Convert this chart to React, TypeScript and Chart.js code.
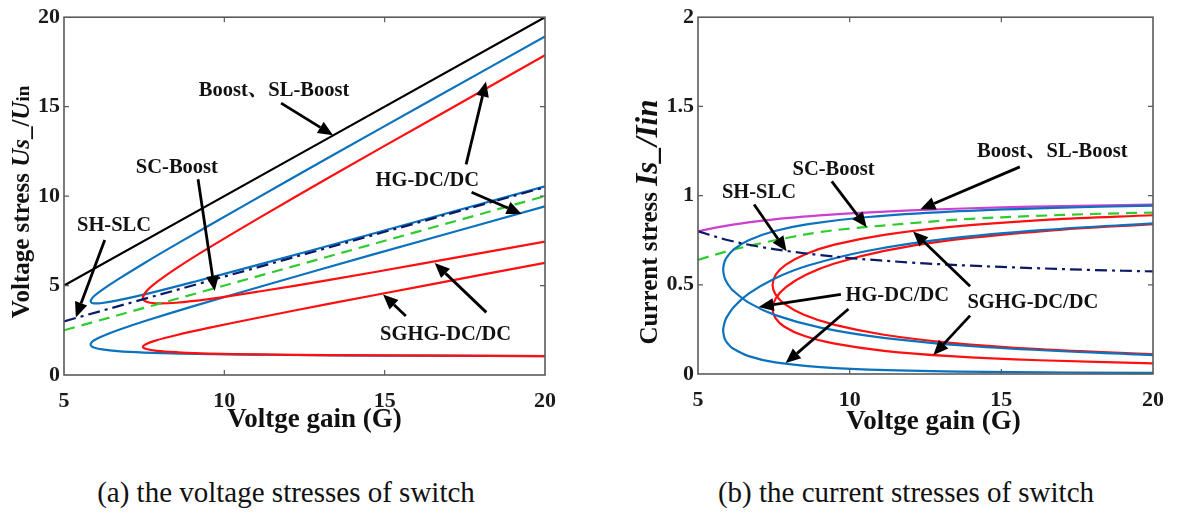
import React, { useEffect, useRef } from 'react';
import { Chart, registerables } from 'chart.js';
Chart.register(...registerables);

// ---------- tick labels ----------
const xTicks = [5, 10, 15, 20];
const voltageTicks = [0, 5, 10, 15, 20];
const currentTicks = [0, 0.5, 1, 1.5, 2];

// ---------- (a) voltage stress ----------
const boostG = [5, 20];
const boostVs = [5, 20];
const scBoostG = [5, 20];
const scBoostVs = [2.5, 10];
const shSlcG = [5, 20];
const shSlcVs = [3, 10.5];

// HG-DC/DC loops (blue)
const hgG = [20.0, 16.44, 13.31, 10.61, 8.63, 7.5, 6.67, 6.19, 5.93, 5.86, 5.83, 5.86, 5.9, 6.0, 6.14, 6.67, 7.55, 9.04, 11.25, 14.51, 20.0];
const hgVs1 = [18.92, 15.36, 12.21, 9.47, 7.44, 6.25, 5.33, 4.76, 4.4, 4.24, 4.12, 4.04, 4.01, 4.0, 4.01, 4.17, 4.52, 5.2, 6.25, 7.84, 10.55];
const hgVs2 = [1.06, 1.08, 1.1, 1.14, 1.19, 1.25, 1.33, 1.43, 1.54, 1.61, 1.71, 1.82, 1.89, 2.0, 2.13, 2.5, 3.03, 3.85, 5.0, 6.67, 9.43];

// SGHG-DC/DC loops (red)
const sgG = [20.0, 16.58, 13.33, 11.14, 9.5, 8.56, 7.9, 7.57, 7.46, 7.55, 7.85, 8.49, 9.51, 11.13, 13.33, 16.25, 20.0];
const sgVs1 = [17.87, 14.41, 11.11, 8.84, 7.09, 6.03, 5.2, 4.68, 4.31, 4.11, 4.01, 4.04, 4.24, 4.68, 5.33, 6.25, 7.46];
const sgVs2 = [1.06, 1.08, 1.11, 1.15, 1.2, 1.27, 1.35, 1.45, 1.58, 1.72, 1.92, 2.22, 2.63, 3.23, 4.0, 5.0, 6.27];

// ---------- (b) current stress ----------
const boostIG = [5, 6, 7, 8, 9, 10, 12, 14, 16, 18, 20];
const boostIs = [0.8, 0.833, 0.857, 0.875, 0.889, 0.9, 0.917, 0.929, 0.938, 0.944, 0.95];
const scBoostIG = [5, 6, 7, 8, 9, 10, 12, 14, 16, 18, 20];
const scBoostIs = [0.64, 0.69, 0.73, 0.765, 0.795, 0.815, 0.845, 0.87, 0.885, 0.897, 0.905];
const shSlcIG = [5, 6, 7, 8, 9, 10, 12, 14, 16, 18, 20];
const shSlcIs = [0.8, 0.75, 0.714, 0.688, 0.667, 0.65, 0.625, 0.607, 0.594, 0.583, 0.575];
const hgIs1 = [0.944, 0.93, 0.91, 0.88, 0.84, 0.8, 0.75, 0.7, 0.65, 0.62, 0.586, 0.55, 0.53, 0.5, 0.47, 0.4, 0.33, 0.26, 0.2, 0.15, 0.106];
const hgIs2 = [0.844, 0.808, 0.76, 0.691, 0.608, 0.533, 0.45, 0.377, 0.313, 0.279, 0.243, 0.209, 0.191, 0.167, 0.144, 0.1, 0.065, 0.039, 0.022, 0.012, 0.006];
const sgIs1 = [0.89, 0.865, 0.825, 0.78, 0.725, 0.673, 0.613, 0.558, 0.5, 0.448, 0.393, 0.332, 0.275, 0.22, 0.175, 0.139, 0.11];
const sgIs2 = [0.84, 0.804, 0.75, 0.69, 0.619, 0.556, 0.487, 0.426, 0.366, 0.315, 0.265, 0.214, 0.17, 0.13, 0.1, 0.077, 0.06];

// ---------- annotations (data coordinates) ----------
const leftLabels = [
  { text: 'Boost、SL-Boost', g: 11.55, v: 15.9 },
  { text: 'SC-Boost', g: 8.52, v: 11.6 },
  { text: 'SH-SLC', g: 6.56, v: 8.34 },
  { text: 'HG-DC/DC', g: 16.33, v: 10.86 },
  { text: 'SGHG-DC/DC', g: 16.9, v: 2.27 },
];
const leftArrows = [
  [11.77, 15.2, 13.39, 13.4],
  [9.18, 10.94, 9.7, 4.7],
  [6.27, 7.54, 5.37, 3.22],
  [17.54, 11.77, 18.16, 16.4],
  [17.71, 10.22, 19.27, 9.0],
  [18.17, 3.5, 16.56, 6.26],
  [15.66, 3.3, 14.95, 4.5],
];
const rightLabels = [
  { text: 'Boost、SL-Boost', g: 16.68, v: 1.248 },
  { text: 'SC-Boost', g: 9.47, v: 1.147 },
  { text: 'SH-SLC', g: 7.01, v: 1.015 },
  { text: 'HG-DC/DC', g: 11.57, v: 0.44 },
  { text: 'SGHG-DC/DC', g: 16.04, v: 0.4 },
];
const rightArrows = [
  [15.61, 1.161, 12.33, 0.923],
  [9.41, 1.08, 10.56, 0.822],
  [6.85, 0.95, 7.92, 0.688],
  [9.71, 0.446, 7.0, 0.376],
  [9.96, 0.364, 7.89, 0.061],
  [13.97, 0.492, 12.09, 0.799],
  [13.97, 0.327, 12.76, 0.106],
];

const SERIF = '"Liberation Serif", "Times New Roman", "Noto Serif CJK SC", "Noto Sans CJK SC", serif';
const BLUE = '#0b72bd';
const RED = '#ff1010';
const GREEN = '#2ecc2e';
const NAVY = '#0c1a66';
const MAGENTA = '#cc3fd0';

const pts = (xs: number[], ys: number[]) => xs.map((x, i) => ({ x, y: ys[i] }));

function line(data: any[], color: string, dash: number[] = []) {
  return {
    data,
    borderColor: color,
    backgroundColor: color,
    borderWidth: 2.2,
    borderDash: dash,
    showLine: true,
    pointRadius: 0,
    tension: 0.35,
    fill: false,
  };
}

type Seg = { text: string; font: string };

const decorPlugin = {
  id: 'decor',
  afterDatasetsDraw(chart: any, _a: any, opts: any) {
    const { ctx, chartArea: ca, scales } = chart;
    const xs = scales.x;
    const ys = scales.y;
    ctx.save();
    // frame
    ctx.strokeStyle = '#5a5a5a';
    ctx.lineWidth = 1.6;
    ctx.strokeRect(ca.left, ca.top, ca.right - ca.left, ca.bottom - ca.top);
    // inward ticks
    ctx.lineWidth = 1.2;
    ctx.beginPath();
    for (const t of opts.xTicks) {
      const px = xs.getPixelForValue(t);
      if (px <= ca.left + 1 || px >= ca.right - 1) continue;
      ctx.moveTo(px, ca.bottom); ctx.lineTo(px, ca.bottom - 5);
      ctx.moveTo(px, ca.top); ctx.lineTo(px, ca.top + 5);
    }
    for (const t of opts.yTicks) {
      const py = ys.getPixelForValue(t);
      if (py <= ca.top + 1 || py >= ca.bottom - 1) continue;
      ctx.moveTo(ca.left, py); ctx.lineTo(ca.left + 5, py);
      ctx.moveTo(ca.right, py); ctx.lineTo(ca.right - 5, py);
    }
    ctx.stroke();

    // arrows
    ctx.strokeStyle = '#000';
    ctx.fillStyle = '#000';
    for (const a of opts.arrows) {
      const x0 = xs.getPixelForValue(a[0]);
      const y0 = ys.getPixelForValue(a[1]);
      const x1 = xs.getPixelForValue(a[2]);
      const y1 = ys.getPixelForValue(a[3]);
      const ang = Math.atan2(y1 - y0, x1 - x0);
      const hl = 15, hw = 6.5;
      const bx = x1 - hl * Math.cos(ang);
      const by = y1 - hl * Math.sin(ang);
      ctx.lineWidth = 2.8;
      ctx.beginPath();
      ctx.moveTo(x0, y0);
      ctx.lineTo(bx, by);
      ctx.stroke();
      ctx.beginPath();
      ctx.moveTo(x1, y1);
      ctx.lineTo(bx + hw * Math.sin(ang), by - hw * Math.cos(ang));
      ctx.lineTo(bx - hw * Math.sin(ang), by + hw * Math.cos(ang));
      ctx.closePath();
      ctx.fill();
    }

    // labels
    ctx.font = `bold 20.5px ${SERIF}`;
    ctx.textAlign = 'center';
    ctx.textBaseline = 'middle';
    ctx.fillStyle = '#111';
    for (const l of opts.labels) {
      ctx.fillText(l.text, xs.getPixelForValue(l.g), ys.getPixelForValue(l.v));
    }

    // x title
    ctx.font = `bold 27px ${SERIF}`;
    ctx.fillStyle = '#111';
    ctx.fillText(opts.xTitle, (ca.left + ca.right) / 2 + opts.xTitleDx, opts.xTitleY);

    // y title (rich, rotated)
    const segs: Seg[] = opts.yTitle;
    ctx.save();
    ctx.translate(opts.yTitleX, opts.yTitleY);
    ctx.rotate(-Math.PI / 2);
    let total = 0;
    for (const s of segs) { ctx.font = s.font; total += ctx.measureText(s.text).width; }
    let cx = -total / 2;
    ctx.textAlign = 'left';
    ctx.textBaseline = 'alphabetic';
    for (const s of segs) {
      ctx.font = s.font;
      ctx.fillText(s.text, cx, 9);
      cx += ctx.measureText(s.text).width;
    }
    ctx.restore();
    ctx.restore();
  },
};

function makeChart(canvas: HTMLCanvasElement, cfg: any) {
  return new Chart(canvas, {
    type: 'scatter',
    data: { datasets: cfg.datasets },
    options: {
      animation: false,
      responsive: false,
      devicePixelRatio: 1,
      layout: { padding: cfg.padding },
      plugins: {
        legend: { display: false },
        tooltip: { enabled: false },
        decor: cfg.decor,
      },
      scales: {
        x: {
          type: 'linear',
          min: 5,
          max: 20,
          grid: { display: false, drawTicks: false, tickLength: 0 },
          border: { display: false },
          afterBuildTicks: (s: any) => { s.ticks = xTicks.map((v) => ({ value: v })); },
          afterFit: (s: any) => { s.height = cfg.xAxisHeight; },
          ticks: {
            padding: 13,
            color: '#1a1a1a',
            font: { family: SERIF, size: 22, weight: 'bold' },
            maxRotation: 0,
            callback: (v: any) => String(v),
          },
        },
        y: {
          type: 'linear',
          min: 0,
          max: cfg.yMax,
          grid: { display: false, drawTicks: false, tickLength: 0 },
          border: { display: false },
          afterBuildTicks: (s: any) => { s.ticks = cfg.yTicks.map((v: number) => ({ value: v })); },
          afterFit: (s: any) => { s.width = cfg.yAxisWidth; },
          ticks: {
            padding: 4,
            color: '#1a1a1a',
            font: { family: SERIF, size: 22, weight: 'bold' },
            callback: (v: any) => String(v),
          },
        },
      },
    } as any,
    plugins: [decorPlugin as any],
  });
}

export default function App() {
  const leftRef = useRef<HTMLCanvasElement>(null);
  const rightRef = useRef<HTMLCanvasElement>(null);

  useEffect(() => {
    const left = makeChart(leftRef.current!, {
      yMax: 20,
      yTicks: voltageTicks,
      yAxisWidth: 64,
      xAxisHeight: 75,
      padding: { left: 0, right: 43, top: 13, bottom: 0 },
      datasets: [
        line(pts(boostG, boostVs), '#000000'),
        line(pts(shSlcG, shSlcVs), NAVY, [12, 5, 3, 5]),
        line(pts(scBoostG, scBoostVs), GREEN, [11, 7]),
        line(pts(sgG, sgVs1), RED),
        line(pts(sgG, sgVs2), RED),
        line(pts(hgG, hgVs1), BLUE),
        line(pts(hgG, hgVs2), BLUE),
      ],
      decor: {
        xTicks,
        yTicks: voltageTicks,
        labels: leftLabels,
        arrows: leftArrows,
        xTitle: 'Voltge gain (G)',
        xTitleDx: 10,
        xTitleY: 420,
        yTitleX: 20,
        yTitleY: 202,
        yTitle: [
          { text: 'Voltage stress ', font: `bold 25px ${SERIF}` },
          { text: 'Us', font: `italic bold 25px ${SERIF}` },
          { text: '_/', font: `bold 25px ${SERIF}` },
          { text: 'U', font: `italic bold 25px ${SERIF}` },
          { text: 'in', font: `bold 19px ${SERIF}` },
        ],
      },
    });
    const right = makeChart(rightRef.current!, {
      yMax: 2,
      yTicks: currentTicks,
      yAxisWidth: 110,
      xAxisHeight: 76,
      padding: { left: 0, right: 18, top: 11, bottom: 0 },
      datasets: [
        line(pts(shSlcIG, shSlcIs), NAVY, [12, 5, 3, 5]),
        line(pts(hgG, hgIs1), BLUE),
        line(pts(hgG, hgIs2), BLUE),
        line(pts(sgG, sgIs1), RED),
        line(pts(sgG, sgIs2), RED),
        line(pts(scBoostIG, scBoostIs), GREEN, [11, 7]),
        line(pts(boostIG, boostIs), MAGENTA),
      ],
      decor: {
        xTicks,
        yTicks: currentTicks,
        labels: rightLabels,
        arrows: rightArrows,
        xTitle: 'Voltge gain (G)',
        xTitleDx: 8,
        xTitleY: 422,
        yTitleX: 60,
        yTitleY: 222,
        yTitle: [
          { text: 'Current stress ', font: `bold 25px ${SERIF}` },
          { text: 'Is_/Iin', font: `italic bold 31px ${SERIF}` },
        ],
      },
    });
    return () => {
      left.destroy();
      right.destroy();
    };
  }, []);

  const capStyle: React.CSSProperties = {
    position: 'absolute',
    top: 474,
    height: 36,
    lineHeight: '36px',
    fontSize: 29,
    fontFamily: SERIF,
    color: '#111',
    textAlign: 'center',
    whiteSpace: 'nowrap',
  };

  return (
    <div style={{ position: 'absolute', left: 0, top: 0, width: 1177, height: 513, background: '#fff', overflow: 'hidden' }}>
      <canvas ref={leftRef} width={588} height={450} style={{ position: 'absolute', left: 0, top: 0, width: 588, height: 450 }} />
      <canvas ref={rightRef} width={589} height={450} style={{ position: 'absolute', left: 588, top: 0, width: 589, height: 450 }} />
      <div style={{ ...capStyle, left: 0, width: 572 }}>(a) the voltage stresses of switch</div>
      <div style={{ ...capStyle, left: 620, width: 572 }}>(b) the current stresses of switch</div>
    </div>
  );
}
